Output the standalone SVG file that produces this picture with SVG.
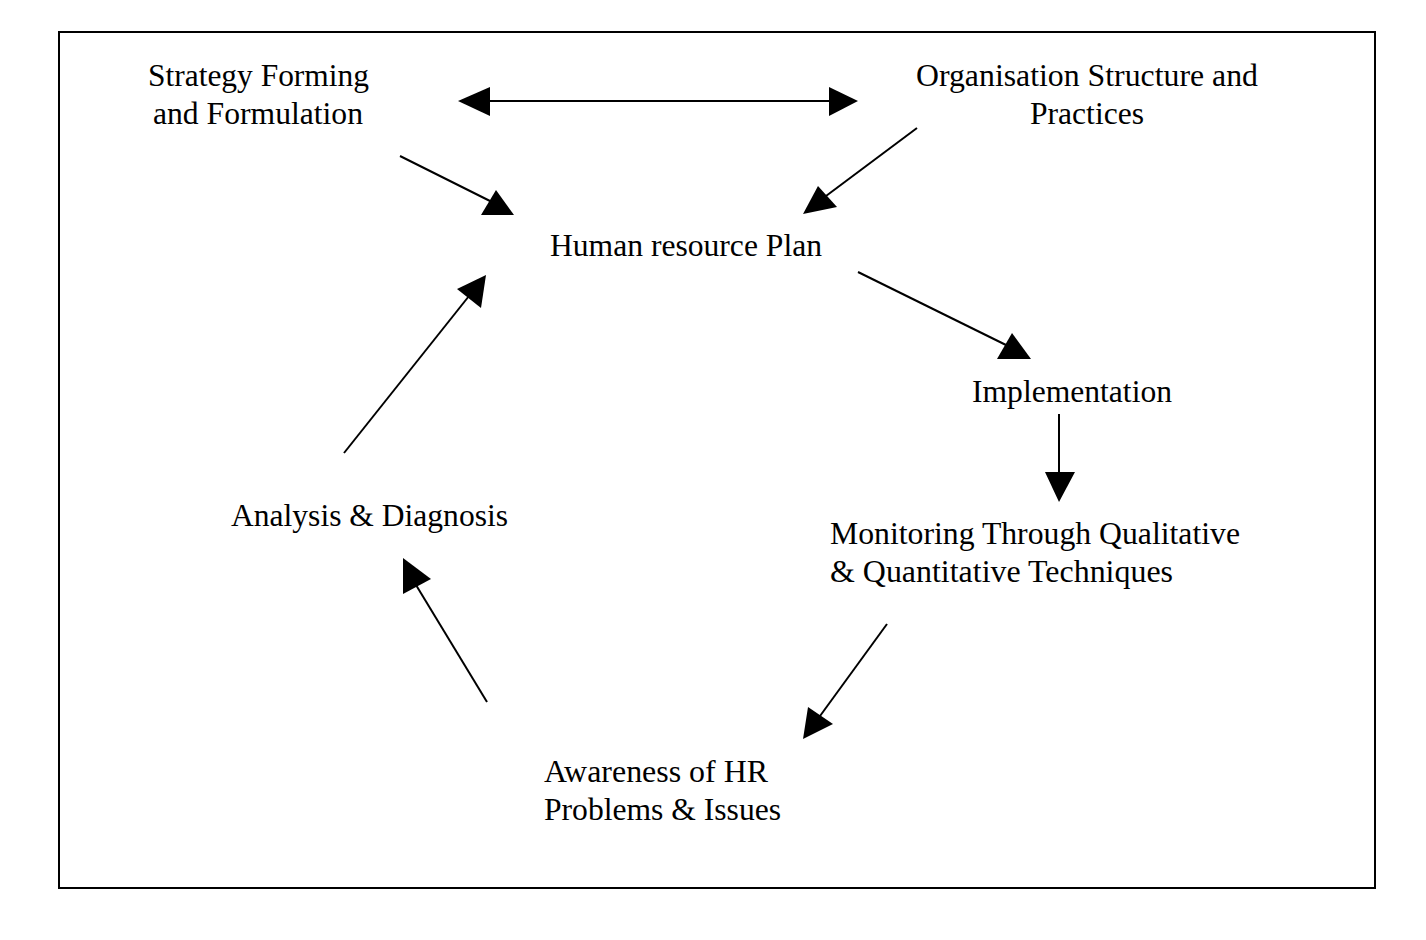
<svg xmlns="http://www.w3.org/2000/svg" width="1426" height="940" viewBox="0 0 1426 940">
<style>
text{font-family:"Liberation Serif","Times New Roman",serif;font-size:31px;fill:#000}
.m{text-anchor:middle}
.ln{stroke:#000;stroke-width:2;fill:none}
.hd{fill:#000;stroke:none}
</style>
<rect x="0" y="0" width="1426" height="940" fill="#fff"/>
<rect x="59" y="32" width="1316" height="856" fill="none" stroke="#000" stroke-width="2"/>
<g id="strategy"><text class="m" x="258.5" y="86" textLength="221" lengthAdjust="spacingAndGlyphs">Strategy Forming</text><text class="m" x="258" y="124" textLength="210" lengthAdjust="spacingAndGlyphs">and Formulation</text></g>
<g id="organisation"><text class="m" x="1087" y="86" textLength="342" lengthAdjust="spacingAndGlyphs">Organisation Structure and</text><text class="m" x="1087" y="124" textLength="114" lengthAdjust="spacingAndGlyphs">Practices</text></g>
<g id="hrplan"><text x="550" y="256" textLength="272" lengthAdjust="spacingAndGlyphs">Human resource Plan</text></g>
<g id="implementation"><text x="972" y="402" textLength="200" lengthAdjust="spacingAndGlyphs">Implementation</text></g>
<g id="analysis"><text x="231" y="526" textLength="277" lengthAdjust="spacingAndGlyphs">Analysis &amp; Diagnosis</text></g>
<g id="monitoring"><text x="830" y="544" textLength="410" lengthAdjust="spacingAndGlyphs">Monitoring Through Qualitative</text><text x="830" y="582" textLength="343" lengthAdjust="spacingAndGlyphs">&amp; Quantitative Techniques</text></g>
<g id="awareness"><text x="544" y="782" textLength="224" lengthAdjust="spacingAndGlyphs">Awareness of HR</text><text x="544" y="820" textLength="237" lengthAdjust="spacingAndGlyphs">Problems &amp; Issues</text></g>
<g id="connectors">
<line class="ln" x1="488" y1="101" x2="830" y2="101"/>
<polygon class="hd" points="458,101 490,87 490,116"/>
<polygon class="hd" points="858,101 829,87 829,116"/>
<line class="ln" x1="400" y1="156" x2="492" y2="202"/>
<polygon class="hd" points="496,190 514,215 481,215"/>
<line class="ln" x1="917" y1="128" x2="826" y2="196"/>
<polygon class="hd" points="818,186 837,207 803,214"/>
<line class="ln" x1="858" y1="272" x2="1006" y2="345"/>
<polygon class="hd" points="1012,333 1031,359 997,359"/>
<line class="ln" x1="1059" y1="414" x2="1059" y2="474"/>
<polygon class="hd" points="1045,472 1075,472 1059,502"/>
<line class="ln" x1="887" y1="624" x2="820" y2="716"/>
<polygon class="hd" points="808,707 833,724 803,739"/>
<line class="ln" x1="487" y1="702" x2="416" y2="585"/>
<polygon class="hd" points="403,558 431,579 403,594"/>
<line class="ln" x1="344" y1="453" x2="469" y2="296"/>
<polygon class="hd" points="486,275 457,289 481,308"/>
</g>
</svg>
